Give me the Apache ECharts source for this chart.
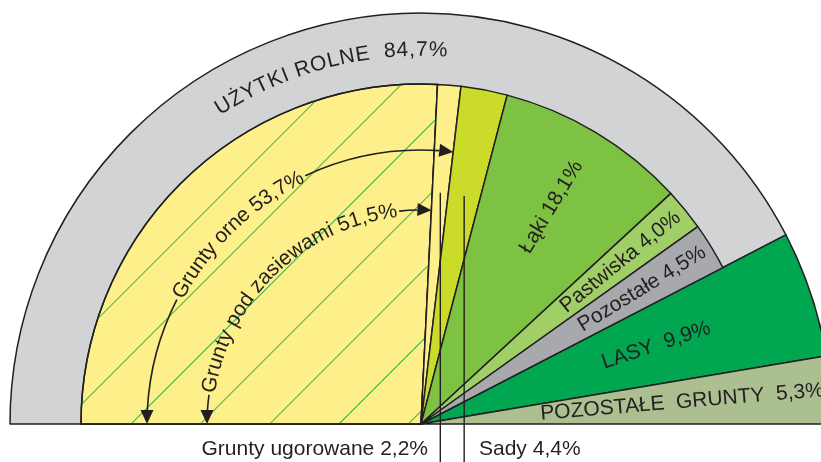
<!DOCTYPE html>
<html>
<head>
<meta charset="utf-8">
<script src="https://cdn.jsdelivr.net/npm/echarts@6/dist/echarts.min.js"></script>
<style>
  html, body { margin: 0; background: #fff; }
  #chart { width: 821px; height: 462px; }
</style>
</head>
<body>
<div id="chart"></div>
<script>
// land use, % of total area
const landNames = ['UŻYTKI ROLNE', 'LASY', 'POZOSTAŁE GRUNTY']
const landValues = [84.7, 9.9, 5.3]
const landColors = ['#d1d3d4', '#00a650', '#abbf91']

// agricultural land breakdown (sums to 84,7)
const farmNames = ['Grunty pod zasiewami', 'Grunty ugorowane', 'Sady', 'Łąki', 'Pastwiska', 'Pozostałe']
const farmValues = [51.5, 2.2, 4.4, 18.1, 4.0, 4.5]
const farmColors = ['#fdef8a', '#fdef8a', '#cbdb2a', '#7dc242', '#a0cf67', '#a7a9ac']

const arableName = 'Grunty orne'
const arableValue = 53.7

const INK = '#231f20'
const FONT = '"Liberation Sans", Arial, sans-serif'
const FS = 21
const CX = 421, CY = 424
const R_OUT = 411, R_IN = 340

const total = landValues.reduce((a, b) => a + b, 0)
const degPer = 180 / total
const pct = (v) => v.toFixed(1).replace('.', ',') + '%'
const angleAt = (cum) => (180 - cum * degPer) * Math.PI / 180
const pt = (th, r) => [CX + r * Math.cos(th), CY - r * Math.sin(th)]

const ctx = document.createElement('canvas').getContext('2d')
function textW(s, size) {
  ctx.font = size + 'px ' + FONT
  return ctx.measureText(s).width
}

const graphics = []

// text bent along an arc, centred on midDeg
function arcText(str, r, midDeg, size, spacing) {
  const chars = [...str]
  const ws = chars.map((c) => textW(c, size))
  const len = ws.reduce((a, b) => a + b, 0) + spacing * (chars.length - 1)
  const mid = midDeg * Math.PI / 180
  let s = -len / 2
  chars.forEach((c, i) => {
    const th = mid - (s + ws[i] / 2) / r
    const [x, y] = pt(th, r)
    graphics.push({
      type: 'text', x, y, z: 100, rotation: th - Math.PI / 2, silent: true,
      style: { text: c, fontSize: size, fontFamily: FONT, fill: INK, align: 'center', verticalAlign: 'middle' },
    })
    s += ws[i] + spacing
  })
  return { start: mid + len / 2 / r, end: mid - len / 2 / r }
}

function radialText(str, r, th, size) {
  const [x, y] = pt(th, r)
  graphics.push({
    type: 'text', x, y, z: 100, rotation: th, silent: true,
    style: { text: str, fontSize: size, fontFamily: FONT, fill: INK, align: 'center', verticalAlign: 'middle' },
  })
}

// arc arrow from th0 to the tip at thTip
function arcArrow(r, th0, thTip) {
  const dir = thTip < th0 ? 1 : -1
  const len = 14, half = 6.5
  const thBase = thTip + dir * len / r
  graphics.push({
    type: 'arc', z: 100, silent: true,
    shape: { cx: CX, cy: CY, r, startAngle: -Math.max(th0, thBase), endAngle: -Math.min(th0, thBase), clockwise: true },
    style: { stroke: INK, lineWidth: 1.6, fill: null },
  })
  const tip = pt(thTip, r)
  const t = [dir * Math.sin(thTip), dir * Math.cos(thTip)]
  const n = [-t[1], t[0]]
  const b = [tip[0] - t[0] * len, tip[1] - t[1] * len]
  graphics.push({
    type: 'polygon', z: 100, silent: true,
    shape: { points: [tip, [b[0] + n[0] * half, b[1] + n[1] * half], [b[0] - n[0] * half, b[1] - n[1] * half]] },
    style: { fill: INK },
  })
}

// ring label
arcText(landNames[0] + '  ' + pct(landValues[0]), 374, 104.5, FS, 1.0)

// arable land and sown area, with arrows to both ends
const gap = 0.01
const orne = arcText(arableName + ' ' + pct(arableValue), 274, 134, FS, 0)
arcArrow(274, orne.end - gap, angleAt(arableValue))
arcArrow(274, orne.start + gap, Math.PI)
const sown = arcText(farmNames[0] + ' ' + pct(farmValues[0]), 214, 134, FS, 0.3)
arcArrow(214, sown.end - gap, angleAt(farmValues[0]))
arcArrow(214, sown.start + gap, Math.PI)

// radial labels inside the slices
const cum = []
farmValues.reduce((a, v, i) => { cum[i] = a + v / 2; return a + v }, 0)
radialText(farmNames[3] + ' ' + pct(farmValues[3]), 253, angleAt(cum[3]), FS)
radialText(farmNames[4] + ' ' + pct(farmValues[4]), 257, angleAt(cum[4]), FS)
radialText(farmNames[5] + ' ' + pct(farmValues[5]), 259, angleAt(cum[5]), FS)
const lasyMid = landValues[0] + landValues[1] / 2
const restMid = landValues[0] + landValues[1] + landValues[2] / 2
radialText(landNames[1] + '  ' + pct(landValues[1]), 248, angleAt(lasyMid), FS)
radialText('POZOSTAŁE  GRUNTY  ' + pct(landValues[2]), 262, angleAt(restMid), FS)

// leader lines for the two thin slices
;[1, 2].forEach((i) => {
  const [x, y] = pt(angleAt(cum[i]), 232)
  graphics.push({
    type: 'line', z: 100, silent: true,
    shape: { x1: x, y1: y, x2: x, y2: 462 },
    style: { stroke: INK, lineWidth: 1.4 },
  })
})
graphics.push({
  type: 'text', x: 428, y: 449, z: 100, silent: true,
  style: { text: farmNames[1] + ' ' + pct(farmValues[1]), fontSize: FS, fontFamily: FONT, fill: INK, align: 'right', verticalAlign: 'middle' },
})
graphics.push({
  type: 'text', x: 479, y: 449, z: 100, silent: true,
  style: { text: farmNames[2] + ' ' + pct(farmValues[2]), fontSize: FS, fontFamily: FONT, fill: INK, align: 'left', verticalAlign: 'middle' },
})

const border = { borderColor: INK, borderWidth: 1.5 }
const hatch = { symbol: 'rect', symbolSize: 1, dashArrayX: [1, 0], dashArrayY: [1, 48], rotation: -Math.PI / 4, color: '#36b449' }

const chart = echarts.init(document.getElementById('chart'), null, { renderer: 'canvas' })
chart.setOption({
  animation: false,
  backgroundColor: '#fff',
  series: [
    {
      type: 'pie', center: [CX, CY], radius: [0, R_OUT],
      startAngle: 180, endAngle: 0, clockwise: true, silent: true,
      label: { show: false }, labelLine: { show: false },
      data: landValues.map((v, i) => ({ name: landNames[i], value: v, itemStyle: { color: landColors[i], ...border } })),
    },
    {
      type: 'pie', center: [CX, CY], radius: [0, R_IN],
      startAngle: 180, endAngle: 0, clockwise: true, silent: true,
      label: { show: false }, labelLine: { show: false },
      data: [
        ...farmValues.map((v, i) => {
          const itemStyle = { color: farmColors[i], ...border }
          if (i === 0) itemStyle.decal = hatch
          return { name: farmNames[i], value: v, itemStyle }
        }),
        { name: 'rest', value: total - farmValues.reduce((a, b) => a + b, 0), itemStyle: { color: 'transparent', borderWidth: 0 } },
      ],
    },
  ],
  graphic: graphics,
})
</script>
</body>
</html>
